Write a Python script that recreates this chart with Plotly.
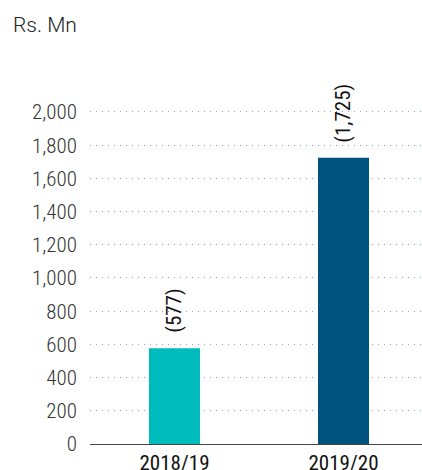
import plotly.graph_objects as go

categories = ["2018/19", "2019/20"]
values = [577, 1725]
labels = ["(577)", "(1,725)"]
colors = ["#00BBBB", "#00527F"]
tickvals = [0, 200, 400, 600, 800, 1000, 1200, 1400, 1600, 1800, 2000]

COND = "Roboto Condensed, Roboto, sans-serif"

fig = go.Figure(go.Bar(
    x=categories, y=values, width=0.302,
    marker=dict(color=colors, line=dict(width=0)),
    hoverinfo="x+y",
))

for c, v, t in zip(categories, values, labels):
    fig.add_annotation(x=c, y=v, text=t, textangle=-90, showarrow=False,
                       xanchor="center", yanchor="bottom", yshift=13,
                       font=dict(family=COND, size=21, color="#111"))

fig.add_annotation(text="Rs. Mn", xref="paper", yref="paper",
                   x=(-90 + 11) / 332, y=1 + (107 - 25) / 337,
                   xanchor="left", yanchor="middle", showarrow=False,
                   font=dict(family="Roboto", size=21, color="#222", weight=300))

fig.update_layout(
    width=422, height=470,
    margin=dict(l=90, r=0, t=107, b=26),
    paper_bgcolor="white", plot_bgcolor="white",
    showlegend=False,
    font=dict(family=COND, size=21, color="#333"),
)

fig.update_yaxes(range=[0, 2030], tickvals=tickvals, tickformat=",", automargin=False,
                 showgrid=True, gridcolor="#7FA6C6", griddash="1px,5px", gridwidth=1,
                 zeroline=False, showline=False, ticks="", ticklabelstandoff=12,
                 tickfont=dict(family=COND, size=21, color="#333", weight=300))
fig.update_xaxes(range=[-0.5, -0.5 + 332 / 169], automargin=False,
                 showline=True, linecolor="#444", linewidth=1,
                 ticks="", ticklabelstandoff=0,
                 tickfont=dict(family=COND, size=21, color="#111"))

fig.write_html("out.html", config={"displayModeBar": False},
               post_script="document.body.style.margin='0';")
